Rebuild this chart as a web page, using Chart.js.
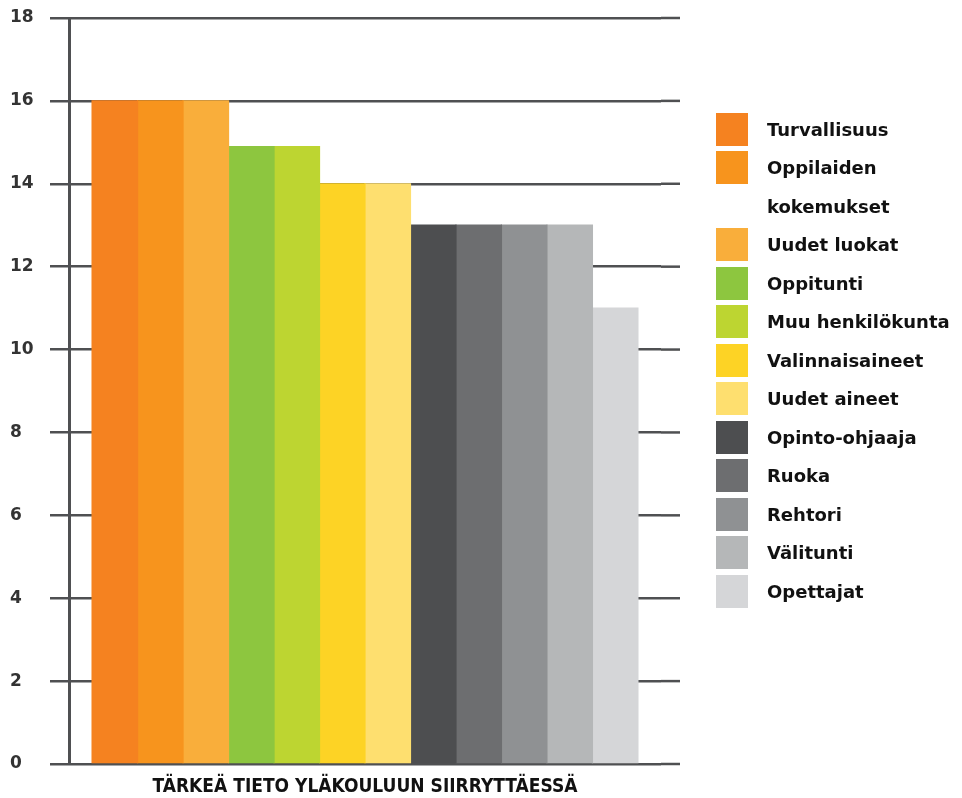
<!DOCTYPE html>
<html>
<head>
<meta charset="utf-8">
<title>Tärkeä tieto yläkouluun siirryttäessä</title>
<script src="https://cdn.jsdelivr.net/npm/chart.js@4.4.1/dist/chart.umd.min.js"></script>
<style>
  body { margin: 0; background: #fff; }
  #wrap { position: relative; width: 962px; height: 798px; }
  #legend { position: absolute; left: 716px; top: 110px; font: bold 18px "DejaVu Sans", sans-serif; color: #111; }
  .row { display: flex; align-items: center; height: 38.5px; }
  .box { width: 32px; height: 33px; margin-right: 19px; flex: none; }
</style>
</head>
<body>
<div id="wrap">
  <canvas id="c"></canvas>
  <div id="legend"></div>
</div>
<script>
var category = ['TÄRKEÄ TIETO YLÄKOULUUN SIIRRYTTÄESSÄ'];
var labels = ['Turvallisuus', 'Oppilaiden\nkokemukset', 'Uudet luokat', 'Oppitunti', 'Muu henkilökunta',
  'Valinnaisaineet', 'Uudet aineet', 'Opinto-ohjaaja', 'Ruoka', 'Rehtori', 'Välitunti', 'Opettajat'];
var values = [16, 16, 16, 14.9, 14.9, 14, 14, 13, 13, 13, 13, 11];
var colors = ['#f58220', '#f7941d', '#f9ae3b', '#8dc63f', '#bdd531', '#fdd325', '#fedf6f',
  '#4d4e50', '#6d6e70', '#8f9193', '#b5b7b8', '#d5d6d8'];

var gridColor = '#4f5052';

// the horizontal grid runs a bit past the plot on the right
var gridTail = {
  id: 'gridTail',
  beforeDatasetsDraw: function (chart) {
    var ctx = chart.ctx, y = chart.scales.y, a = chart.chartArea;
    ctx.save();
    ctx.strokeStyle = gridColor;
    ctx.lineWidth = 2.5;
    y.ticks.forEach(function (t) {
      var p = y.getPixelForValue(t.value);
      ctx.beginPath();
      ctx.moveTo(a.right, p);
      ctx.lineTo(a.right + 19, p);
      ctx.stroke();
    });
    ctx.restore();
  }
};

var datasets = labels.map(function (l, i) {
  return { label: l, data: [values[i]], backgroundColor: colors[i], borderWidth: 0, inflateAmount: 0.6 };
});

var chart = new Chart(document.getElementById('c'), {
  type: 'bar',
  data: { labels: category, datasets: datasets },
  plugins: [gridTail],
  options: {
    responsive: true,
    maintainAspectRatio: false,
    animation: false,
    layout: { padding: { left: 10, right: 301, top: 18, bottom: 0 } },
    datasets: { bar: { categoryPercentage: 0.922, barPercentage: 1 } },
    plugins: { legend: { display: false }, tooltip: { enabled: false } },
    scales: {
      x: {
        grid: { display: false },
        border: { display: false },
        ticks: { color: '#111', padding: 4, font: { family: 'DejaVu Sans Condensed', weight: 'bold', size: 19 } },
        afterFit: function (s) { s.height = 34; }
      },
      y: {
        min: 0,
        max: 18,
        ticks: { stepSize: 2, color: '#333', crossAlign: 'far', padding: 6,
          font: { family: 'DejaVu Sans', weight: 'bold', size: 17 } },
        grid: { color: gridColor, lineWidth: 2.5, tickLength: 19, tickColor: gridColor },
        border: { color: gridColor, width: 3 },
        afterFit: function (s) { s.width = 59; }
      }
    }
  }
});

var legend = document.getElementById('legend');
chart.data.datasets.forEach(function (ds) {
  var parts = ds.label.split('\n');
  parts.forEach(function (txt, k) {
    var row = document.createElement('div');
    row.className = 'row';
    var box = document.createElement('span');
    box.className = 'box';
    box.style.background = k === 0 ? ds.backgroundColor : 'transparent';
    row.appendChild(box);
    row.appendChild(document.createTextNode(txt));
    legend.appendChild(row);
  });
});
</script>
</body>
</html>
